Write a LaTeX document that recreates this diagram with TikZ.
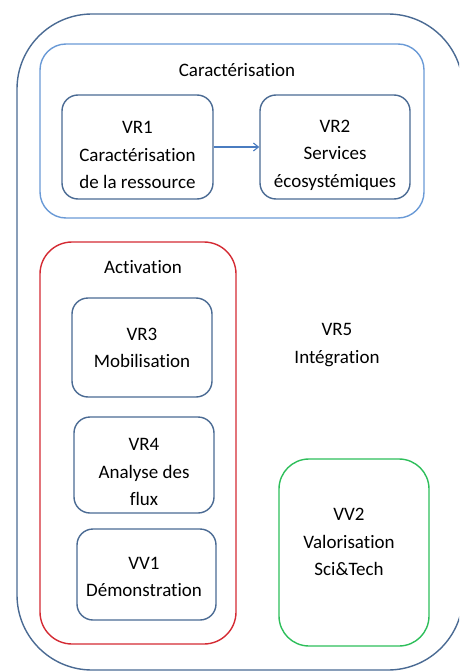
\documentclass[tikz,border=0pt]{standalone}
\usepackage{fontspec}
\setmainfont{Carlito}[Ligatures={NoCommon}]
\usetikzlibrary{arrows.meta}
\definecolor{outerc}{HTML}{4A6A93}
\definecolor{caracc}{HTML}{6A9AD6}
\definecolor{innerc}{HTML}{4A6A93}
\definecolor{redc}{HTML}{D42A33}
\definecolor{greenc}{HTML}{2DBE5A}
\definecolor{arrowc}{HTML}{4A7CC0}
\begin{document}
\begin{tikzpicture}[x=1pt,y=-1pt,
  box/.style={draw=#1,line width=1.4pt,rounded corners=16pt,inner sep=0pt},
  lbl/.style={font=\fontsize{19}{27.5}\selectfont,align=center,inner sep=0pt,text=black},
  conn/.style={draw=arrowc,line width=1.1pt,-{Straight Barb[length=5pt,width=8pt]}}]
\useasboundingbox (0,0) rectangle (459,671);
\clip (0,0) rectangle (459,671);
% outer
\node[box=outerc,rounded corners=75pt,minimum width=446pt,minimum height=656pt] (outer) at (240,342) {};
% Caracterisation group
\node[box=caracc,rounded corners=26pt,minimum width=384pt,minimum height=174pt] (carac) at (232,131) {};
\node[lbl] (caractitle) at (237,70) {Caractérisation};
\node[box=innerc,minimum width=151pt,minimum height=104pt] (vr1) at (137.5,147) {};
\node[lbl] (vr1t) at (137.5,155) {VR1\\Caractérisation\\de la ressource};
\node[box=innerc,minimum width=150pt,minimum height=104pt] (vr2) at (335,147) {};
\node[lbl] (vr2t) at (335,155) {VR2\\Services\\écosystémiques};
\draw[conn] (vr1.east) -- (vr2.west);
% Activation group
\node[box=redc,rounded corners=32pt,minimum width=196pt,minimum height=402pt] (activ) at (138,443) {};
\node[lbl] (activtitle) at (143,267) {Activation};
\node[box=innerc,minimum width=140pt,minimum height=99pt] (vr3) at (142,347.5) {};
\node[lbl] (vr3t) at (142,348) {VR3\\Mobilisation};
\node[box=innerc,minimum width=140pt,minimum height=96pt] (vr4) at (144,465) {};
\node[lbl] (vr4t) at (144,472) {VR4\\Analyse des\\flux};
\node[box=innerc,minimum width=139pt,minimum height=91pt] (vv1) at (146.5,574.5) {};
\node[lbl] (vv1t) at (144,577) {VV1\\Démonstration};
% VR5
\node[lbl] (vr5) at (337,345) {VR5\\Intégration};
% VV2
\node[box=greenc,rounded corners=30pt,minimum width=150pt,minimum height=187pt] (vv2) at (354,552.5) {};
\node[lbl] (vv2t) at (349,542) {VV2\\Valorisation\\Sci\&Tech};
\end{tikzpicture}
\end{document}
